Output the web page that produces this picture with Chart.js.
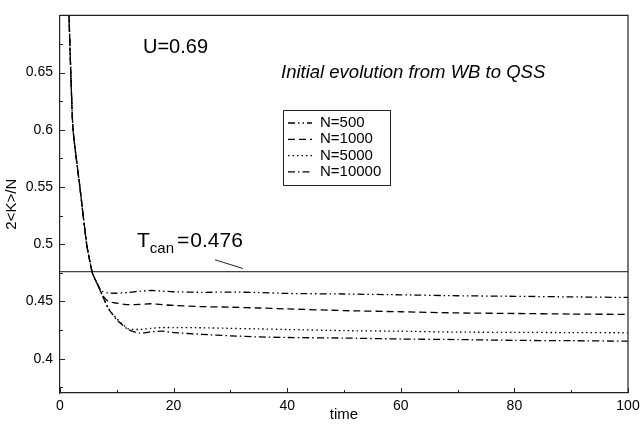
<!DOCTYPE html>
<html>
<head>
<meta charset="utf-8">
<script src="https://cdn.jsdelivr.net/npm/chart.js@4/dist/chart.umd.min.js"></script>
<style>
  html, body { margin: 0; padding: 0; background: #fff; }
  #wrap { width: 640px; height: 427px; }
</style>
</head>
<body>
<div id="wrap"><canvas id="myChart" width="640" height="427"></canvas></div>
<script>
'use strict';

// data
const times = [1.4, 1.9, 2.3, 3.5, 4.7, 5.7, 6.7, 7.4, 8.5, 10, 12, 14, 16, 18, 20, 25, 30, 35, 40, 50, 60, 70, 80, 90, 100];
const n500 = [0.73, 0.65, 0.60, 0.55, 0.50, 0.475, 0.464, 0.459, 0.4575, 0.4572, 0.4578, 0.459, 0.4596, 0.459, 0.4585, 0.458, 0.4582, 0.4578, 0.457, 0.4565, 0.4558, 0.455, 0.4545, 0.454, 0.4535];
const n1000 = [0.73, 0.65, 0.60, 0.55, 0.50, 0.475, 0.464, 0.456, 0.450, 0.4485, 0.4472, 0.4475, 0.448, 0.4472, 0.4465, 0.4455, 0.445, 0.4443, 0.4435, 0.442, 0.441, 0.440, 0.4395, 0.439, 0.4387];
const n5000 = [0.73, 0.65, 0.60, 0.55, 0.50, 0.475, 0.464, 0.456, 0.444, 0.435, 0.4262, 0.4255, 0.4265, 0.4272, 0.4272, 0.427, 0.4265, 0.426, 0.4255, 0.4245, 0.424, 0.4232, 0.423, 0.4228, 0.4226];
const n10000 = [0.73, 0.65, 0.60, 0.55, 0.50, 0.475, 0.464, 0.456, 0.444, 0.434, 0.4255, 0.4223, 0.4235, 0.424, 0.4228, 0.4213, 0.42, 0.419, 0.4185, 0.418, 0.4172, 0.4167, 0.416, 0.4157, 0.4153];
const seriesNames = ['N=500', 'N=1000', 'N=5000', 'N=10000'];
const tcanX = [0, 100];
const tcanY = [0.476, 0.476];
const pointerX = [27.3, 32.2];
const pointerY = [0.4864, 0.4788];

const FONT = '"Liberation Sans", Arial, Helvetica, sans-serif';
const dashes = [[7, 3, 1.5, 3, 1.5, 3], [7, 4], [1.5, 3], [7, 3, 1.5, 3]];

function pts(xs, ys) {
    return xs.map((t, i) => ({ x: t, y: ys[i] }));
}

const curves = [n500, n1000, n5000, n10000].map((vals, i) => ({
    label: seriesNames[i],
    data: pts(times, vals),
    borderColor: '#000',
    borderWidth: 1.3,
    borderDash: dashes[i],
    pointRadius: 0,
    tension: 0.2,
    fill: false
}));

// extra drawing: frame, inward ticks, texts, legend box
const decor = {
    id: 'decor',
    afterDraw(chart) {
        const { ctx, chartArea: a, scales: { x, y } } = chart;
        ctx.save();
        ctx.strokeStyle = '#222';
        ctx.lineWidth = 1.2;
        ctx.beginPath();
        ctx.moveTo(a.left, a.top);
        ctx.lineTo(a.right, a.top);
        ctx.lineTo(a.right, a.bottom);
        ctx.stroke();

        ctx.lineWidth = 1;
        ctx.beginPath();
        x.ticks.forEach(t => {
            const px = Math.round(x.getPixelForValue(t.value)) + 0.5;
            const len = Math.round(t.value) % 20 === 0 ? 5 : 3;
            ctx.moveTo(px, a.bottom);
            ctx.lineTo(px, a.bottom - len);
        });
        y.ticks.forEach(t => {
            const py = Math.round(y.getPixelForValue(t.value)) + 0.5;
            const len = Math.round(t.value * 1000) % 50 === 0 ? 5 : 3;
            ctx.moveTo(a.left, py);
            ctx.lineTo(a.left + len, py);
        });
        ctx.stroke();

        // texts
        ctx.fillStyle = '#000';
        ctx.textBaseline = 'middle';
        ctx.textAlign = 'left';
        ctx.font = '20px ' + FONT;
        ctx.fillText('U=0.69', 143, 47);
        ctx.font = 'italic 18.5px ' + FONT;
        ctx.fillText('Initial evolution from WB to QSS', 281, 73);

        // T_can label
        ctx.textBaseline = 'alphabetic';
        let cx = 137;
        ctx.font = '21px ' + FONT;
        ctx.fillText('T', cx, 247);
        cx += ctx.measureText('T').width;
        ctx.font = '15px ' + FONT;
        ctx.fillText('can', cx, 253);
        cx += ctx.measureText('can').width + 3;
        ctx.font = '21px ' + FONT;
        ctx.fillText('=', cx, 247);
        cx += ctx.measureText('=').width + 1;
        ctx.fillText('0.476', cx, 247);

        // legend
        const bx = 283, by = 110, bw = 107, bh = 75;
        ctx.strokeStyle = '#222';
        ctx.lineWidth = 1;
        ctx.strokeRect(bx + 0.5, by + 0.5, bw, bh);
        ctx.font = '15px ' + FONT;
        ctx.textBaseline = 'middle';
        chart.data.datasets.slice(0, 4).forEach((ds, i) => {
            const ry = by + 13 + i * 16.3;
            ctx.setLineDash(ds.borderDash);
            ctx.strokeStyle = '#000';
            ctx.lineWidth = 1.3;
            ctx.beginPath();
            ctx.moveTo(bx + 5, ry);
            ctx.lineTo(bx + 29, ry);
            ctx.stroke();
            ctx.setLineDash([]);
            ctx.fillText(ds.label, bx + 37, ry);
        });
        ctx.restore();
    }
};

const config = {
    type: 'line',
    data: {
        datasets: [
            ...curves,
            { label: 'Tcan', data: pts(tcanX, tcanY), borderColor: '#444', borderWidth: 1.2, pointRadius: 0 },
            { label: 'pointer', data: pts(pointerX, pointerY), borderColor: '#222', borderWidth: 1, pointRadius: 0 }
        ]
    },
    options: {
        responsive: false,
        animation: false,
        events: [],
        layout: { padding: { top: 5, right: 12, left: 0, bottom: 0 } },
        plugins: { legend: { display: false }, tooltip: { enabled: false } },
        scales: {
            x: {
                type: 'linear',
                min: 0,
                max: 100,
                grid: { display: false, drawTicks: false },
                border: { display: true, color: '#222', width: 1.2 },
                ticks: {
                    stepSize: 10,
                    padding: 5,
                    maxRotation: 0,
                    color: '#000',
                    font: { family: FONT, size: 14 },
                    callback: v => (Math.round(v) % 20 === 0 ? String(v) : '')
                },
                title: { display: true, text: 'time', color: '#000', font: { family: FONT, size: 15 }, padding: { top: 0, bottom: 3 } },
                afterFit: s => { s.height = 34; s.paddingRight = 0; s.paddingLeft = 0; }
            },
            y: {
                type: 'linear',
                min: 0.37,
                max: 0.70,
                grid: { display: false, drawTicks: false },
                border: { display: true, color: '#222', width: 1.2 },
                ticks: {
                    stepSize: 0.025,
                    includeBounds: false,
                    padding: 7,
                    color: '#000',
                    font: { family: FONT, size: 14 },
                    callback: v => {
                        const m = Math.round(v * 1000);
                        return (m % 50 === 0 && m < 690) ? String(+v.toFixed(3)) : '';
                    }
                },
                title: { display: true, text: '2<K>/N', color: '#000', font: { family: FONT, size: 15 }, padding: { top: 3, bottom: 0 } },
                afterFit: s => { s.width = 60; }
            }
        }
    },
    plugins: [decor]
};

var myChart = new Chart(document.getElementById('myChart'), config);
</script>
</body>
</html>
